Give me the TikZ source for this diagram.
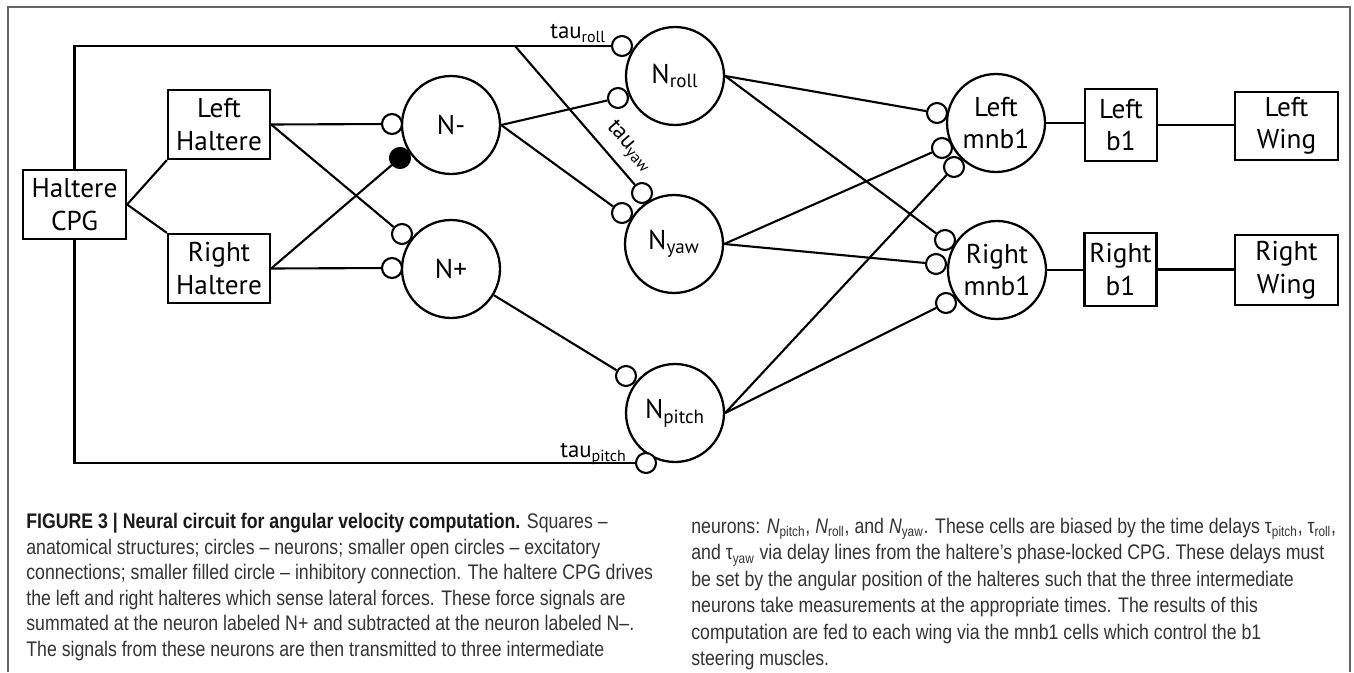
\documentclass[tikz,border=0pt]{standalone}
\usepackage{fontspec}
\setmainfont{PT Sans}
\newfontfamily\didafont[FakeStretch=0.84]{Liberation Sans}
\usepackage{tikz}

\begin{document}
\begin{tikzpicture}[x=0.02cm, y=-0.02cm,
                % Stile dei blocchi anatomici (rettangoli)
                blocco/.style={
                    draw,
                    rectangle,
                    minimum width=2.04cm,
                    minimum height=1.38cm,
                    line width=1.3pt,
                    inner sep=0pt,
                    align=center,
                    font=\fontsize{15.5}{18.5}\selectfont
                },
                % Stile dei neuroni (cerchi grandi)
                neurone/.style={
                    draw,
                    circle,
                    minimum size=1.96cm,
                    line width=1.3pt,
                    inner sep=0pt,
                    align=center,
                    font=\fontsize{15.5}{18.5}\selectfont
                },
                % Sinapsi eccitatoria: cerchio piccolo vuoto
                sinapsi/.style={
                    draw,
                    circle,
                    fill=white,
                    minimum size=0.4cm,
                    inner sep=0pt,
                    line width=1.2pt
                },
                % Sinapsi inibitoria: cerchio piccolo pieno
                inibitoria/.style={sinapsi, fill=black},
                filo/.style={line width=1.2pt},
                ritardo/.style={inner sep=0pt, font=\fontsize{13}{15}\selectfont},
                didascalia/.style={
                    inner sep=0pt,
                    align=left,
                    text=black!80,
                    font=\didafont\fontsize{12}{15}\selectfont
                }
            ]
                \useasboundingbox (0,0) rectangle (1354,672);

                % Cornice grigia
                \draw[black!60, line width=0.6pt] (8,672) -- (8,7) -- (1350,7) -- (1350,672);

                % 1. Blocchi anatomici
                \node [blocco, minimum width=2.06cm] (cpg) at (74.5,204.5) {Haltere\\CPG};
                \node [blocco] (haltereSx) at (219,124.5) {Left\\Haltere};
                \node [blocco] (haltereDx) at (219,268.5) {Right\\Haltere};
                \node [blocco, minimum width=1.44cm, minimum height=1.44cm] (b1Sx) at (1121,125) {Left\\b1};
                \node [blocco, minimum width=1.44cm, minimum height=1.46cm] (b1Dx) at (1120.5,269.5) {Right\\b1};
                \node [blocco, minimum width=2.06cm, minimum height=1.36cm] (alaSx) at (1286.5,126) {Left\\Wing};
                \node [blocco, minimum width=2.06cm, minimum height=1.4cm] (alaDx) at (1286.5,270) {Right\\Wing};

                % 2. Neuroni
                \node [neurone] (nMeno) at (451,125) {N-};
                \node [neurone] (nPiu) at (451,269) {N+};
                \node [neurone] (nRoll) at (675,76) {N\textsubscript{roll}};
                \node [neurone] (nYaw) at (674,244) {N\textsubscript{yaw}};
                \node [neurone] (nPitch) at (675,413) {N\textsubscript{pitch}};
                \node [neurone] (mnbSx) at (996,123) {Left\\mnb1};
                \node [neurone] (mnbDx) at (997,270) {Right\\mnb1};

                % 3. Sinapsi sui neuroni
                \node [sinapsi] (sMeno1) at (392,124) {};
                \node [inibitoria] (sMeno2) at (400,158) {};
                \node [sinapsi] (sPiu1) at (402,234) {};
                \node [sinapsi] (sPiu2) at (392,268) {};
                \node [sinapsi] (sRoll1) at (622,46) {};
                \node [sinapsi] (sRoll2) at (618,98) {};
                \node [sinapsi] (sYaw1) at (642,193) {};
                \node [sinapsi] (sYaw2) at (622,213) {};
                \node [sinapsi] (sPitch1) at (626,376) {};
                \node [sinapsi] (sPitch2) at (646,463) {};
                \node [sinapsi] (sSx1) at (937,113) {};
                \node [sinapsi] (sSx2) at (942,148) {};
                \node [sinapsi] (sSx3) at (954,167) {};
                \node [sinapsi] (sDx1) at (945,240) {};
                \node [sinapsi] (sDx2) at (936,264) {};
                \node [sinapsi] (sDx3) at (946,303) {};

                % 4. Collegamenti
                \draw [filo] (cpg.east) -- (haltereSx.south west);
                \draw [filo] (cpg.east) -- (haltereDx.north west);
                \draw [filo] (haltereSx.east) -- (sMeno1);
                \draw [filo] (haltereSx.east) -- (sPiu1);
                \draw [filo] (haltereDx.east) -- (sPiu2);
                \draw [filo] (haltereDx.east) -- (sMeno2);
                \draw [filo] (nMeno.east) -- (sRoll2);
                \draw [filo] (nMeno.east) -- (sYaw2);
                \draw [filo] (nPiu) -- (sPitch1);
                \draw [filo] (nRoll.east) -- (sSx1);
                \draw [filo] (nRoll.east) -- (sDx1);
                \draw [filo] (nYaw.east) -- (sSx2);
                \draw [filo] (nYaw.east) -- (sDx2);
                \draw [filo] (nPitch.east) -- (sSx3);
                \draw [filo] (nPitch.east) -- (sDx3);
                \draw [filo] (mnbSx.east) -- (mnbSx.east -| b1Sx.west);
                \draw [filo] (mnbDx.east) -- (mnbDx.east -| b1Dx.west);
                \draw [filo] (b1Sx.east) -- (b1Sx.east -| alaSx.west);
                \draw [filo] (b1Dx.east) -- (b1Dx.east -| alaDx.west);

                % 5. Linee di ritardo dal CPG
                \coordinate (biforcazione) at (515,46);
                \draw [filo] (cpg.north) |- (sRoll1);
                \draw [filo] (biforcazione) -- (sYaw1);
                \draw [filo] (cpg.south) |- (sPitch2);
                \node [ritardo, anchor=base west] (tauRoll) at (550,39) {tau\textsubscript{roll}};
                \node [ritardo, rotate=-49] (tauYaw) at (629,147) {tau\textsubscript{yaw}};
                \node [ritardo, anchor=base east] (tauPitch) at (627,457) {tau\textsubscript{pitch}};

                % 6. Didascalia su due colonne
                \node [didascalia, font=\didafont\fontsize{12}{14.5}\selectfont, anchor=north west] (testoSx) at (26,513) {%
                    {\bfseries\color{black!90}FIGURE 3 | Neural circuit for angular velocity computation.} Squares –\\
                    anatomical structures; circles – neurons; smaller open circles – excitatory\\
                    connections; smaller filled circle – inhibitory connection. The haltere CPG drives\\
                    the left and right halteres which sense lateral forces. These force signals are\\
                    summated at the neuron labeled N+ and subtracted at the neuron labeled N–.\\
                    The signals from these neurons are then transmitted to three intermediate};
                \node [didascalia, anchor=north west] (testoDx) at (691,518) {%
                    neurons: \textit{N}\textsubscript{pitch}, \textit{N}\textsubscript{roll}, and \textit{N}\textsubscript{yaw}. These cells are biased by the time delays τ\textsubscript{pitch}, τ\textsubscript{roll},\\
                    and τ\textsubscript{yaw} via delay lines from the haltere’s phase-locked CPG. These delays must\\
                    be set by the angular position of the halteres such that the three intermediate\\
                    neurons take measurements at the appropriate times. The results of this\\
                    computation are fed to each wing via the mnb1 cells which control the b1\\
                    steering muscles.};

            \end{tikzpicture}
\end{document}
